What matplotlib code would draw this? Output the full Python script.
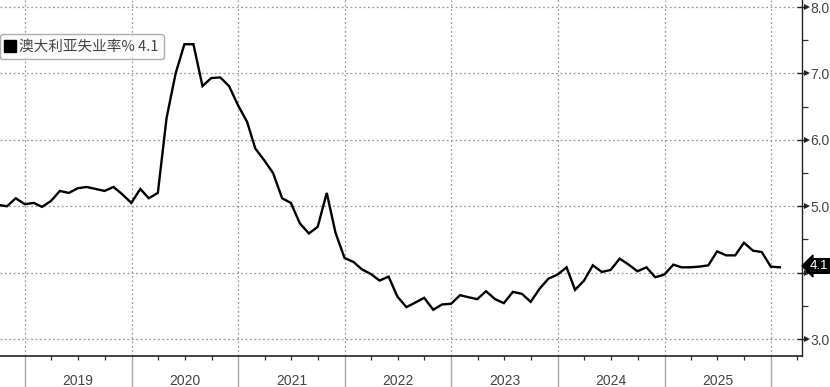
import matplotlib
matplotlib.use("Agg")
import matplotlib.pyplot as plt
import matplotlib.dates as mdates
from matplotlib.lines import Line2D
import pandas as pd

plt.rcParams['font.family'] = ['Noto Sans CJK SC', 'DejaVu Sans']
narrow = ['Liberation Sans Narrow', 'Liberation Sans', 'DejaVu Sans']

# monthly unemployment rate (%), Sep 2018 - Jan 2026
values_2018 = [5.02, 5.00, 5.12, 5.03]
values_2019 = [5.05, 4.99, 5.08, 5.23, 5.20, 5.27, 5.29, 5.26, 5.23, 5.29, 5.18, 5.05]
values_2020 = [5.26, 5.12, 5.20, 6.33, 7.00, 7.44, 7.44, 6.81, 6.93, 6.94, 6.81, 6.52]
values_2021 = [6.27, 5.87, 5.69, 5.50, 5.12, 5.05, 4.74, 4.59, 4.69, 5.20, 4.60, 4.22]
values_2022 = [4.16, 4.05, 3.98, 3.88, 3.94, 3.64, 3.48, 3.55, 3.62, 3.44, 3.52, 3.53]
values_2023 = [3.66, 3.63, 3.60, 3.72, 3.60, 3.54, 3.71, 3.68, 3.56, 3.76, 3.91, 3.97]
values_2024 = [4.08, 3.74, 3.88, 4.11, 4.01, 4.04, 4.21, 4.12, 4.02, 4.08, 3.93, 3.97]
values_2025 = [4.12, 4.08, 4.08, 4.09, 4.11, 4.32, 4.26, 4.26, 4.45, 4.33, 4.31, 4.09]
values_2026 = [4.08]

rate = (values_2018 + values_2019 + values_2020 + values_2021 + values_2022
        + values_2023 + values_2024 + values_2025 + values_2026)
dates = pd.date_range("2018-09-30", periods=len(rate), freq="ME")

years = [2019, 2020, 2021, 2022, 2023, 2024, 2025]
y_ticks = [3.0, 4.0, 5.0, 6.0, 7.0, 8.0]
y_minor = [3.5, 4.5, 5.5, 6.5, 7.5]
series_name = "澳大利亚失业率%"
last_value = 4.1

fig = plt.figure(figsize=(8.30, 3.87), dpi=100)
ax = fig.add_axes([0.0, 31 / 387, 802 / 830, 356 / 387])

ax.plot(dates, rate, color="black", lw=1.7, solid_joinstyle="miter", zorder=3)

ax.set_xlim(pd.Timestamp("2018-10-07"), pd.Timestamp("2026-04-17"))
ax.set_ylim(2.744, 8.106)

for s in ["left", "top"]:
    ax.spines[s].set_visible(False)
ax.spines["right"].set_color("#222222")
ax.spines["bottom"].set_color("#222222")
ax.spines["right"].set_linewidth(1.0)
ax.spines["bottom"].set_linewidth(1.2)

# y axis on the right; the 4.0 label sits under the last-value tag
ax.yaxis.tick_right()
ax.set_yticks(y_ticks)
ax.set_yticks(y_minor, minor=True)
ax.set_yticklabels(["" if abs(v - last_value) < 0.3 else f"{v:.1f}" for v in y_ticks],
                   family=narrow)
ax.tick_params(axis="y", which="major", length=0, pad=6, labelsize=10,
               labelcolor="#444444")
ax.tick_params(axis="y", which="minor", length=4, width=0.9, color="#333333",
               direction="out")
for v in y_ticks:
    ax.axhline(v, color="#999999", lw=0.9, ls=(0, (1.5, 2)), zorder=1)
ax.plot([1.0] * len(y_ticks), y_ticks, ls="none", marker="_", ms=7,
        color="#222222", transform=ax.get_yaxis_transform(), clip_on=False)
ax.plot([1.006] * len(y_ticks), y_ticks, ls="none", marker=">", ms=4.5,
        color="#222222", transform=ax.get_yaxis_transform(), clip_on=False,
        markeredgewidth=0)

# x axis: year boundaries + quarter ticks
year_starts = [pd.Timestamp(f"{y}-01-01") for y in years + [years[-1] + 1]]
for d in year_starts:
    ax.axvline(d, color="#999999", lw=0.9, ls=(0, (1.5, 2)), zorder=1)

ax.set_xticks(year_starts)
ax.set_xticklabels([])
ax.xaxis.set_minor_locator(mdates.MonthLocator(bymonth=[4, 7, 10]))
ax.tick_params(axis="x", which="major", length=23, width=1.0, color="#aaaaaa",
               direction="out")
ax.tick_params(axis="x", which="minor", length=3, width=0.9, color="#333333",
               direction="out")
for y in years:
    ax.text(pd.Timestamp(f"{y}-07-02"), -0.07, str(y), transform=ax.get_xaxis_transform(),
            ha="center", va="center", fontsize=10, color="#444444", family=narrow)

# last value tag
ax.annotate(f"{last_value:.1f}", xy=(1.0, last_value), xycoords=ax.get_yaxis_transform(),
            xytext=(5.5, 0), textcoords="offset points",
            ha="left", va="center", fontsize=9.5, color="white", family=narrow,
            annotation_clip=False,
            bbox=dict(boxstyle="larrow,pad=0.1", fc="black", ec="black"))

# legend
handle = Line2D([], [], ls="none", marker="s", ms=8, color="black")
leg = ax.legend([handle], [f"{series_name} {last_value:.1f}"], loc="upper left",
                bbox_to_anchor=(0.0, 0.905), frameon=True, fancybox=True,
                fontsize=10.5, handlelength=0.6, handletextpad=0.3,
                borderpad=0.4, borderaxespad=0.0)
leg.get_frame().set_edgecolor("#9a9a9a")
leg.get_frame().set_facecolor("#fbfbfb")
leg.get_frame().set_linewidth(1.0)
for t in leg.get_texts():
    t.set_color("#444444")

fig.savefig("out.png", dpi=100)
